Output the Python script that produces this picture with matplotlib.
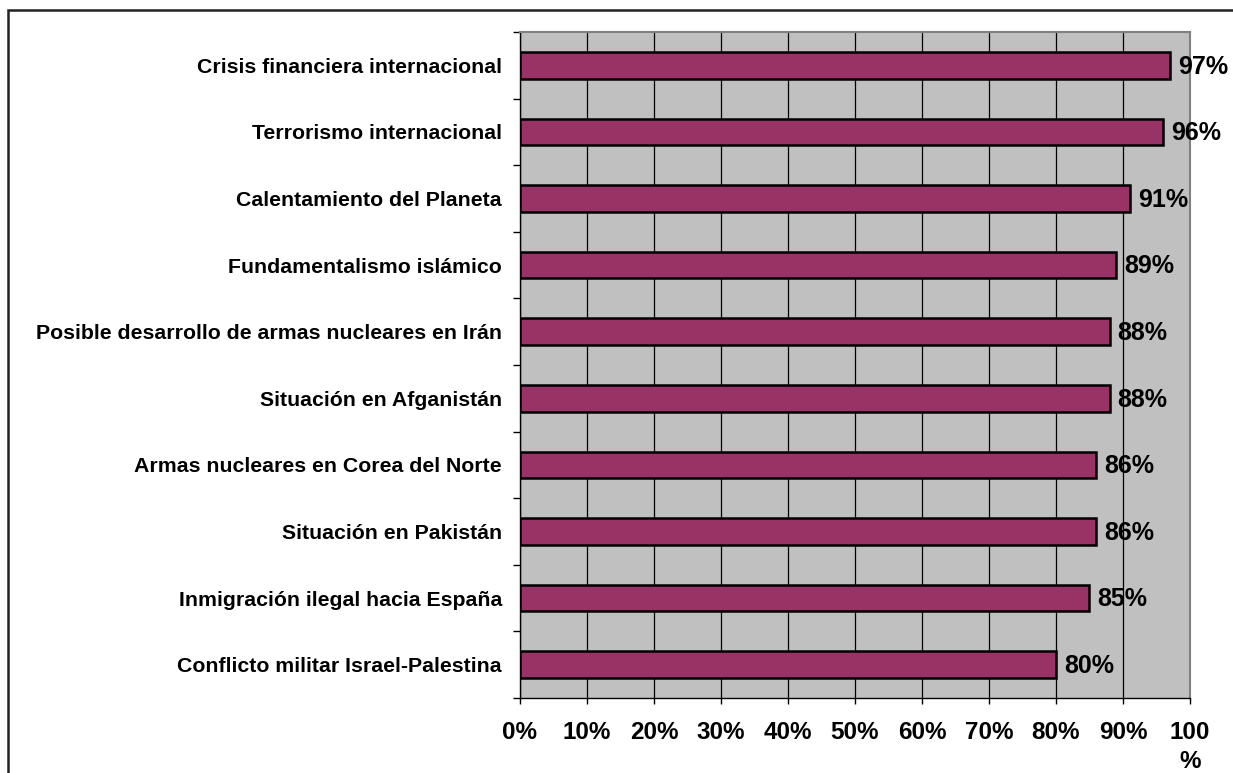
import matplotlib.pyplot as plt
import matplotlib.patches as mpatches
from matplotlib.ticker import FixedLocator

plt.rcParams['font.family'] = ['Liberation Sans', 'DejaVu Sans']
plt.rcParams['font.weight'] = 'bold'

# data, top to bottom as in the chart
categories = ['Crisis financiera internacional', 'Terrorismo internacional',
              'Calentamiento del Planeta', 'Fundamentalismo islámico',
              'Posible desarrollo de armas nucleares en Irán', 'Situación en Afganistán',
              'Armas nucleares en Corea del Norte', 'Situación en Pakistán',
              'Inmigración ilegal hacia España', 'Conflicto militar Israel-Palestina']
values = [97, 96, 91, 89, 88, 88, 86, 86, 85, 80]
xticks = [0, 10, 20, 30, 40, 50, 60, 70, 80, 90, 100]
xtick_labels = ['0%', '10%', '20%', '30%', '40%', '50%', '60%', '70%', '80%', '90%', '100\n%']

fig = plt.figure(figsize=(12.33, 7.73), dpi=100)
ax = fig.add_axes([0.4217, 0.097, 0.5434, 0.8616])

n = len(categories)
ypos = list(range(n - 1, -1, -1))  # first category on top
ax.barh(ypos, values, height=0.4, color='#993366', edgecolor='black', linewidth=1.8, zorder=3)

for y, v in zip(ypos, values):
    ax.text(v + 1.2, y - 0.02, f'{v}%', va='center', ha='left', fontsize=18,
            fontweight='bold', clip_on=False, zorder=4)

ax.set_xlim(0, 100)
ax.set_ylim(-0.5, n - 0.5)
ax.set_facecolor('#c0c0c0')

ax.set_xticks(xticks)
ax.set_xticklabels(xtick_labels, fontsize=17.5, fontweight='bold', linespacing=1.35)
ax.xaxis.grid(True, color='black', linewidth=0.9, zorder=1)
ax.set_axisbelow(True)
ax.tick_params(axis='x', direction='out', length=4.5, width=1, pad=12)

# labels at category centres, ticks at the boundaries
ax.set_yticks(ypos)
ax.set_yticklabels(categories, fontsize=15.3, fontweight='bold')
ax.yaxis.set_minor_locator(FixedLocator([i - 0.5 for i in range(n + 1)]))
ax.tick_params(axis='y', which='major', length=0, pad=13)
ax.tick_params(axis='y', which='minor', direction='out', length=5, width=1)

for side in ['top', 'right']:
    ax.spines[side].set_color('#808080')
    ax.spines[side].set_linewidth(1.5)
for side in ['left', 'bottom']:
    ax.spines[side].set_color('black')
    ax.spines[side].set_linewidth(1)

# outer chart border (runs off the right and bottom of the picture)
border = mpatches.Rectangle((8 / 1233, -0.05), 1.1, 1 - 10 / 773 + 0.05,
                            transform=fig.transFigure, fill=False,
                            edgecolor='#222222', linewidth=1.8)
fig.patches.append(border)

fig.savefig('out.png', dpi=100)
